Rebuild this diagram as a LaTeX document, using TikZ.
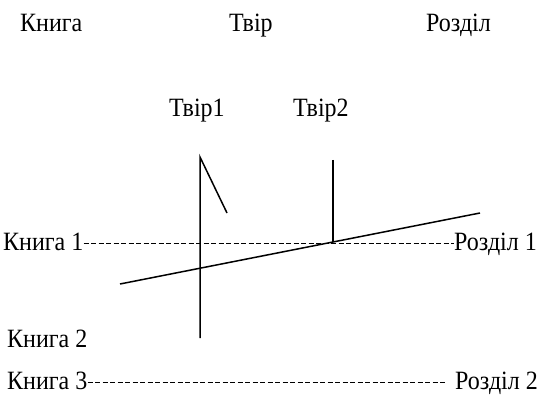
\documentclass[tikz,border=0pt]{standalone}
\usepackage{fontspec}
\setmainfont{Liberation Serif}
\newcommand\tallbox[1]{\scalebox{1}[1.1]{#1}}
\begin{document}
\begin{tikzpicture}[x=1pt,y=1pt,
  lbl/.style={inner sep=0pt,anchor=base west,font=\fontsize{24}{28}\selectfont},
  ln/.style={line width=1.5pt},
  dashline/.style={line width=1.4pt,dash pattern=on 5pt off 2.5pt}]
\useasboundingbox (0,0) rectangle (548,394);
\node[lbl] (kn) at (20,362) {\tallbox{Книга}};
\node[lbl] (tv) at (229,362) {\tallbox{Твір}};
\node[lbl] (rz) at (426,362) {\tallbox{Розділ}};
\node[lbl] (tv1) at (169,277) {\tallbox{Твір1}};
\node[lbl] (tv2) at (293,277) {\tallbox{Твір2}};
\node[lbl] (k1) at (3,144) {\tallbox{Книга 1}};
\node[lbl] (r1) at (454,144) {\tallbox{Розділ 1}};
\node[lbl] (k2) at (7,47) {\tallbox{Книга 2}};
\node[lbl] (k3) at (7,5) {\tallbox{Книга 3}};
\node[lbl] (r2) at (455,5) {\tallbox{Розділ 2}};
\coordinate (a1) at (200,237);
\coordinate (a2) at (200,56);
\coordinate (a3) at (227,181);
\coordinate (b1) at (333,234);
\coordinate (b2) at (333,152);
\coordinate (c1) at (120,110);
\coordinate (c2) at (480,181);
\draw[dashline] ([yshift=6.5pt]k1.base east) -- ([yshift=6.5pt]r1.base west);
\draw[dashline] ([yshift=6.5pt]k3.base east) -- ([xshift=-8pt,yshift=6.5pt]r2.base west);
\draw[ln] (a2) -- (a1) -- (a3);
\draw[ln] (b1) -- (b2);
\draw[ln] (c1) -- (c2);
\end{tikzpicture}
\end{document}
